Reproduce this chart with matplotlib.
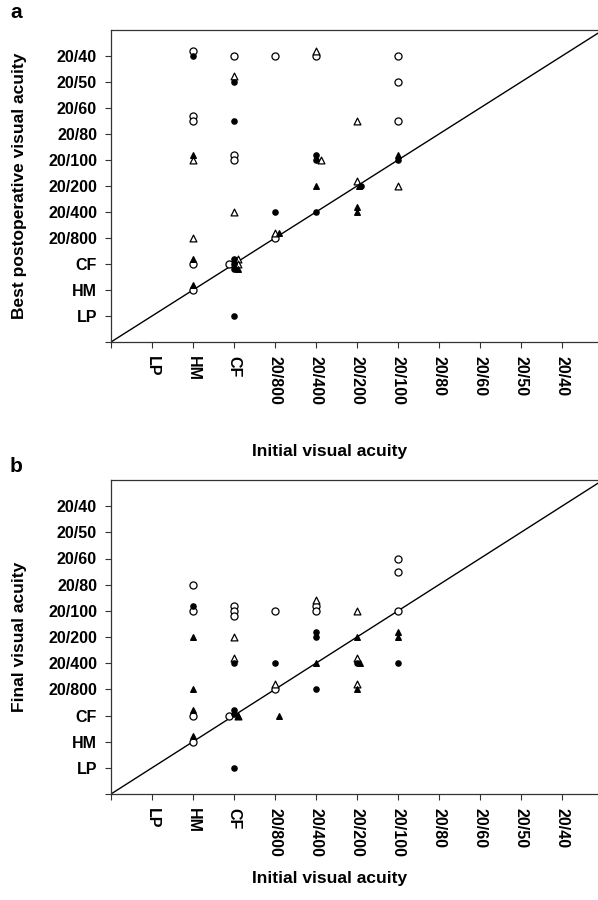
import matplotlib
matplotlib.use("Agg")
import matplotlib.pyplot as plt

plt.rcParams["font.family"] = ["Liberation Sans", "DejaVu Sans"]
plt.rcParams["font.weight"] = "bold"

# acuity scale (index 1..11)
acuity = ["LP", "HM", "CF", "20/800", "20/400", "20/200", "20/100",
          "20/80", "20/60", "20/50", "20/40"]

# panel a: initial (x) vs best postoperative (y)
a_open_circ_x = [2, 3, 4, 5, 7, 7, 2, 2, 7, 3, 3, 4, 2.87, 2, 2]
a_open_circ_y = [11.2, 11.0, 11.0, 11.0, 11.0, 10.0, 8.7, 8.5, 8.5, 7.2, 7.0, 4.0, 3.0, 3.0, 2.0]
a_fill_circ_x = [2, 3, 3, 5, 5, 7, 6.1, 4, 5, 3, 3, 3, 3]
a_fill_circ_y = [11.0, 10.0, 8.5, 7.2, 7.0, 7.0, 6.0, 5.0, 5.0, 3.2, 3.0, 2.8, 1.0]
a_open_tri_x = [5, 3, 6, 2, 5.12, 6, 7, 3, 2, 4, 3.1, 3.1]
a_open_tri_y = [11.2, 10.25, 8.5, 7.0, 7.0, 6.2, 6.0, 5.0, 4.0, 4.2, 3.2, 3.0]
a_fill_tri_x = [2, 7, 5, 6.05, 6, 6, 4.1, 2, 2, 3.1]
a_fill_tri_y = [7.2, 7.2, 6.0, 6.0, 5.2, 5.0, 4.2, 3.2, 2.2, 2.8]

# panel b: initial (x) vs final (y)
b_open_circ_x = [2, 2, 3, 3, 3, 4, 5, 5, 7, 7, 7, 4, 2.87, 2, 2]
b_open_circ_y = [8.0, 7.0, 7.2, 7.0, 6.8, 7.0, 7.2, 7.0, 9.0, 8.5, 7.0, 4.0, 3.0, 3.0, 2.0]
b_fill_circ_x = [2, 5, 5, 3, 4, 6, 7, 5, 3, 3, 3]
b_fill_circ_y = [7.2, 6.2, 6.0, 5.0, 5.0, 5.0, 5.0, 4.0, 3.2, 3.05, 1.0]
b_open_tri_x = [5, 6, 3, 3, 6, 4, 6, 3.1]
b_open_tri_y = [7.4, 7.0, 6.0, 5.2, 5.2, 4.2, 4.2, 3.0]
b_fill_tri_x = [2, 6, 7, 7, 2, 5, 6.07, 6, 4.1, 2, 2, 3.1]
b_fill_tri_y = [6.0, 6.0, 6.2, 6.0, 4.0, 5.0, 5.0, 4.0, 3.0, 3.2, 2.2, 3.0]

fig = plt.figure(figsize=(5.98, 9.0), dpi=100)

W, H = 598.0, 900.0
left = 111 / W
xmax = (598 - 111) / 41.0


def draw(ax, oc, fc, ot, ft, ylabel, xlabel_y):
    ax.plot([0, 13], [0, 13], color="black", lw=1.0, zorder=1)
    ax.scatter(oc[0], oc[1], s=26, marker="o", facecolors="white",
               edgecolors="black", linewidths=0.9, zorder=3)
    ax.scatter(fc[0], fc[1], s=14, marker="o", color="black", zorder=4)
    ax.scatter(ot[0], ot[1], s=24, marker="^", facecolors="white",
               edgecolors="black", linewidths=0.9, zorder=3)
    ax.scatter(ft[0], ft[1], s=16, marker="^", color="black", zorder=4)
    ax.set_xlim(0, xmax)
    ax.set_ylim(0, 12)
    ticks = list(range(0, 12))
    ax.set_xticks(ticks)
    ax.set_yticks(ticks)
    ax.set_xticklabels([""] + acuity, rotation=270, fontsize=11.5,
                       fontweight="bold", va="top")
    ax.set_yticklabels([""] + acuity, fontsize=11.5, fontweight="bold")
    ax.tick_params(direction="out", length=4, width=0.8, color="#333333", pad=6)
    ax.spines["right"].set_visible(False)
    for s in ["left", "bottom", "top"]:
        ax.spines[s].set_color("#333333")
        ax.spines[s].set_linewidth(0.9)
    ax.set_ylabel(ylabel, fontsize=12.5, fontweight="bold")
    ax.yaxis.set_label_coords(-0.173, 0.5)
    ax.set_xlabel("Initial visual acuity", fontsize=12.5, fontweight="bold")
    ax.xaxis.set_label_coords((330 - 111) / (W - 111), xlabel_y)


ax1 = fig.add_axes([left, 1 - 342 / H, 1 - left, 312 / H])
draw(ax1, (a_open_circ_x, a_open_circ_y), (a_fill_circ_x, a_fill_circ_y),
     (a_open_tri_x, a_open_tri_y), (a_fill_tri_x, a_fill_tri_y),
     "Best postoperative visual acuity", -(444 - 342) / 312)

ax2 = fig.add_axes([left, 1 - 794 / H, 1 - left, 314 / H])
draw(ax2, (b_open_circ_x, b_open_circ_y), (b_fill_circ_x, b_fill_circ_y),
     (b_open_tri_x, b_open_tri_y), (b_fill_tri_x, b_fill_tri_y),
     "Final visual acuity", -(871 - 794) / 314)

fig.text(10 / W, 1 - 12 / H, "a", fontsize=15, fontweight="bold", va="center")
fig.text(10 / W, 1 - 466 / H, "b", fontsize=15, fontweight="bold", va="center")

fig.savefig("out.png", dpi=100)
